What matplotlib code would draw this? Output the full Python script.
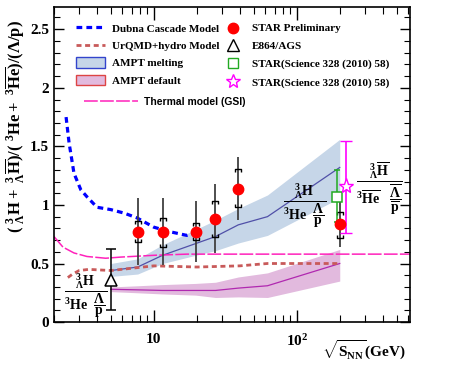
import numpy as np
import matplotlib
matplotlib.use("Agg")
import matplotlib.pyplot as plt
from matplotlib.path import Path
from matplotlib.patches import Patch
from matplotlib.lines import Line2D

plt.rcParams['font.family'] = ['Liberation Serif', 'DejaVu Serif']
plt.rcParams['font.weight'] = 'bold'
plt.rcParams['mathtext.fontset'] = 'custom'
plt.rcParams['mathtext.rm'] = 'Liberation Serif'
plt.rcParams['mathtext.it'] = 'Liberation Serif:italic'
plt.rcParams['mathtext.bf'] = 'Liberation Serif:bold'
plt.rcParams['mathtext.default'] = 'bf'

# STAR preliminary
star_e = [7.7, 11.5, 19.6, 27, 39, 200]
star_r = [0.77, 0.77, 0.77, 0.88, 1.14, 0.84]
star_stat_hi = [1.06, 1.06, 1.03, 1.18, 1.41, 1.04]
star_stat_lo = [0.49, 0.49, 0.51, 0.59, 0.87, 0.64]
star_sys_hi = [0.86, 0.89, 0.85, 1.03, 1.31, 0.94]
star_sys_lo = [0.68, 0.64, 0.70, 0.73, 0.98, 0.72]

# E864/AGS
e864_e = [5.0]
e864_r = [0.36]
e864_lo = [0.10]
e864_hi = [0.62]

# STAR Science 328 (2010) 58
sci_sq_e = [190]
sci_sq_r = [1.07]
sci_sq_lo = [0.855]
sci_sq_hi = [1.30]
sci_st_e = [220]
sci_st_r = [1.16]
sci_st_lo = [0.76]
sci_st_hi = [1.55]

# AMPT
ampt_e = [5, 7.7, 11.5, 19.6, 27, 39, 62.4, 200]
melt_mid = [0.44, 0.47, 0.57, 0.67, 0.73, 0.83, 0.90, 1.32]
melt_hi = [0.50, 0.54, 0.66, 0.79, 0.87, 0.97, 1.085, 1.56]
melt_lo = [0.39, 0.41, 0.50, 0.57, 0.61, 0.675, 0.74, 1.06]
def_mid = [0.28, 0.275, 0.27, 0.27, 0.27, 0.29, 0.31, 0.50]
def_hi = [0.30, 0.31, 0.32, 0.33, 0.34, 0.385, 0.42, 0.62]
def_lo = [0.26, 0.25, 0.24, 0.23, 0.21, 0.215, 0.21, 0.35]

# models
dubna_e = [2.43, 2.55, 2.76, 3.08, 3.4, 4.0, 5.0, 6.2, 7.6, 10, 13.1, 17, 19]
dubna_r = [1.75, 1.53, 1.27, 1.13, 1.07, 0.98, 0.96, 0.93, 0.89, 0.81, 0.77, 0.74, 0.76]
urqmd_e = [2.5, 2.7, 3.0, 3.5, 5, 10, 20, 40, 62.4, 200]
urqmd_r = [0.38, 0.41, 0.44, 0.45, 0.44, 0.48, 0.47, 0.48, 0.50, 0.50]
therm_e = [2.0, 2.31, 2.76, 3.4, 4.6, 5.9, 10, 17, 31, 100, 620]
therm_r = [0.73, 0.64, 0.59, 0.56, 0.545, 0.555, 0.57, 0.58, 0.58, 0.58, 0.58]

fig = plt.figure(figsize=(4.5, 3.66), dpi=100)
ax = fig.add_axes([0.12, 0.12, 0.791, 0.861])

blue_fill = '#c6d6e8'
pink_fill = '#e2bade'

ax.fill_between(ampt_e, melt_lo, melt_hi, color=blue_fill, lw=0)
ax.fill_between(ampt_e, def_lo, def_hi, color=pink_fill, lw=0)
ax.plot(ampt_e, melt_mid, color='#5050a8', lw=0.9)
ax.plot(ampt_e, def_mid, color='#b028b0', lw=0.9)

ax.plot(therm_e, therm_r, color='#ff22bb', lw=1.1, ls=(0, (9, 1.5)))
ax.plot(dubna_e, dubna_r, color='#0000ff', lw=2.3, ls=(0, (1.8, 1.3)))
ax.plot(urqmd_e, urqmd_r, color='#c85a5a', lw=2.0, ls=(0, (1.8, 1.3)))

# STAR preliminary: stat bars, sys brackets, points
ax.vlines(star_e, star_stat_lo, star_stat_hi, color='#404040', lw=1.3)
top_br = Path([(-1, -0.8), (-1, 0), (1, 0), (1, -0.8)],
              [Path.MOVETO, Path.LINETO, Path.LINETO, Path.LINETO])
bot_br = Path([(-1, 0.8), (-1, 0), (1, 0), (1, 0.8)],
              [Path.MOVETO, Path.LINETO, Path.LINETO, Path.LINETO])
ax.plot(star_e, star_sys_hi, ls='none', marker=top_br, ms=5, mfc='none',
        mec='black', mew=1.0)
ax.plot(star_e, star_sys_lo, ls='none', marker=bot_br, ms=5, mfc='none',
        mec='black', mew=1.0)

# Science points
ax.errorbar(sci_sq_e, sci_sq_r,
            yerr=[np.subtract(sci_sq_r, sci_sq_lo), np.subtract(sci_sq_hi, sci_sq_r)],
            fmt='s', ms=7, mfc='white', mec='#22aa22', mew=1.1, ecolor='#22aa22',
            elinewidth=1.1, capsize=2.5, capthick=1.1)
ax.errorbar(sci_st_e, sci_st_r,
            yerr=[np.subtract(sci_st_r, sci_st_lo), np.subtract(sci_st_hi, sci_st_r)],
            fmt='*', ms=11, mfc='white', mec='#ff00ff', mew=1.0, ecolor='#ff00ff',
            elinewidth=1.2, capsize=4, capthick=1.2)

ax.plot(star_e, star_r, 'o', color='red', ms=7.5, zorder=5)

ax.errorbar(e864_e, e864_r,
            yerr=[np.subtract(e864_r, e864_lo), np.subtract(e864_hi, e864_r)],
            fmt='^', ms=9, mfc='white', mec='black', mew=1.1, ecolor='black',
            elinewidth=1.1, capsize=3.5, capthick=1.1, zorder=6)

# fraction labels
frac = r'$\dfrac{{}^{3}_{\Lambda}H}{{}^{3}He\ \ \dfrac{\Lambda}{p}}$'
frac_bar = (r'$\dfrac{{}^{3}_{\Lambda}\overline{H}}'
            r'{{}^{3}\overline{He}\ \ \ \dfrac{\overline{\Lambda}}{\overline{p}}}$')
ax.text(0.09, 0.085, frac, transform=ax.transAxes, fontsize=10,
        ha='center', va='center')
ax.text(0.705, 0.37, frac, transform=ax.transAxes, fontsize=10,
        ha='center', va='center')
ax.text(0.915, 0.42, frac_bar, transform=ax.transAxes, fontsize=10,
        ha='center', va='center')

# axes
ax.set_xscale('log')
ax.set_xlim(2, 620)
ax.set_ylim(0, 2.69)
ax.set_xticks([10, 100])
ax.set_xticklabels(['10', r'$10^{2}$'])
ax.set_yticks([0, 0.5, 1, 1.5, 2, 2.5])
ax.set_yticklabels(['0', '0.5', '1', '1.5', '2', '2.5'])
ax.set_yticks(np.arange(0, 2.7, 0.1), minor=True)
ax.tick_params(which='both', direction='in', top=True, right=True, labelsize=11)
ax.tick_params(axis='y', which='major', length=7, width=1.0)
ax.tick_params(axis='y', which='minor', length=4, width=0.8)
ax.tick_params(axis='x', which='major', length=9, width=1.0, pad=8)
ax.tick_params(axis='x', which='minor', length=5, width=0.8)
for s in ax.spines.values():
    s.set_linewidth(1.2)

ax.set_ylabel(r'$(\ {}^{3}_{\Lambda}H+\ {}^{3}_{\Lambda}\overline{H})/(\ {}^{3}He+\ {}^{3}\overline{He})/(\Lambda/p)$',
              fontsize=12)
ax.yaxis.set_label_coords(-0.075, 0.62)
ax.text(0.87, -0.09, r'$\sqrt{S_{NN}}$(GeV)', transform=ax.transAxes,
        fontsize=11, ha='center', va='center')

# legends
h1 = [Line2D([], [], color='#0000ff', lw=2.3, ls=(0, (1.8, 1.3))),
      Line2D([], [], color='#c85a5a', lw=2.0, ls=(0, (1.8, 1.3))),
      Patch(facecolor=blue_fill, edgecolor='#3344cc', lw=1.0),
      Patch(facecolor=pink_fill, edgecolor='#dd4444', lw=1.0)]
l1 = ax.legend(h1, ['Dubna Cascade Model', 'UrQMD+hydro Model', 'AMPT melting', 'AMPT default'],
               loc='upper left', bbox_to_anchor=(0.062, 0.95), frameon=False,
               fontsize=8, handlelength=2.6, handleheight=1.1, handletextpad=0.6,
               labelspacing=0.56, borderpad=0, borderaxespad=0)
ax.add_artist(l1)

h2 = [Line2D([], [], ls='none', marker='o', color='red', ms=7.5),
      Line2D([], [], ls='none', marker='^', mfc='white', mec='black', ms=8, mew=1.0),
      Line2D([], [], ls='none', marker='s', mfc='white', mec='#22aa22', ms=7, mew=1.0),
      Line2D([], [], ls='none', marker='*', mfc='white', mec='#ff00ff', ms=10, mew=1.0)]
l2 = ax.legend(h2, ['STAR Preliminary', 'E864/AGS', 'STAR(Science 328 (2010) 58)',
                    'STAR(Science 328 (2010) 58)'],
               loc='upper left', bbox_to_anchor=(0.488, 0.947), frameon=False,
               fontsize=8, handlelength=1.0, handletextpad=1.2,
               labelspacing=0.73, borderpad=0, borderaxespad=0)
ax.add_artist(l2)

h3 = [Line2D([], [], color='#ff22bb', lw=1.1, ls=(0, (9, 1.5)))]
l3 = ax.legend(h3, ['Thermal model (GSI)'], loc='upper left',
               bbox_to_anchor=(0.085, 0.715), frameon=False,
               prop={'family': 'Liberation Sans', 'weight': 'bold', 'size': 7.5},
               handlelength=5.2, handletextpad=0.5, borderpad=0, borderaxespad=0)

fig.savefig('out.png', dpi=100)
